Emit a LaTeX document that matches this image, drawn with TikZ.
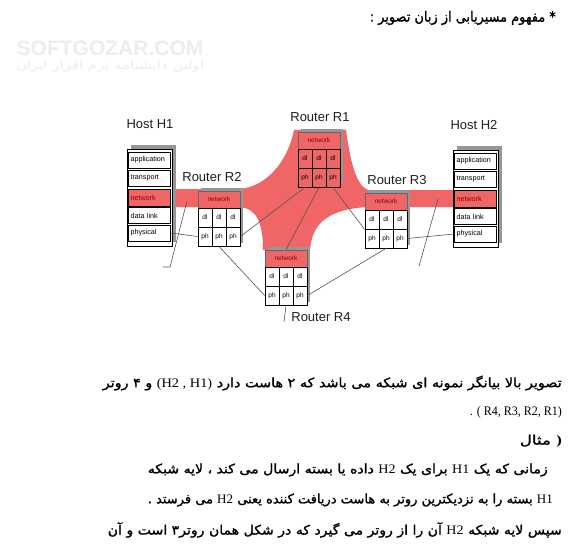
\documentclass[tikz,border=0pt]{standalone}
\usepackage{fontspec}
\usepackage{graphicx}
\setmainfont{Liberation Sans}
\newfontfamily\fa[Script=Arabic,FakeBold=1.3]{DejaVu Sans}
\newfontfamily\fathin[Script=Arabic]{DejaVu Sans}
\newfontfamily\tnr{Liberation Serif}
\TeXXeTstate=1
\definecolor{netred}{RGB}{240,102,102}
\definecolor{nettext}{RGB}{140,0,0}
\definecolor{linkgray}{RGB}{85,85,85}
\definecolor{shadowgray}{RGB}{150,150,150}
\definecolor{labelgray}{RGB}{30,30,30}
\tikzset{
  lbl/.style={font=\fontsize{13}{14}\selectfont, text=labelgray, inner sep=0pt},
  hcell/.style={draw=black, line width=0.6pt, fill=white, minimum width=42pt, minimum height=16pt,
    text width=38pt, align=left, inner xsep=2pt, inner ysep=0pt, font=\fontsize{7.2}{8}\selectfont},
  hnet/.style={hcell, fill=netred, text=nettext, minimum height=17pt},
  hbox/.style={draw=black, line width=0.8pt, fill=white, minimum width=45pt, minimum height=97pt,
    anchor=north west, inner sep=0pt},
  rcell/.style={draw=black, line width=0.8pt, minimum width=14pt, minimum height=19pt, inner sep=0pt,
    font=\fontsize{6.5}{7}\selectfont},
  rnet/.style={draw=black!60, line width=0.5pt, fill=netred, text=nettext, minimum width=42pt,
    minimum height=17pt, inner sep=0pt, font=\fontsize{6.5}{7}\selectfont},
  link/.style={draw=linkgray, line width=0.6pt},
  para/.style={anchor=east, inner sep=0pt, text=black},
}
\newcommand\rtrbox[4]{%
\begin{scope}[shift={(#2,#3)}]
  \fill[shadowgray] (3,-3) rectangle (45,52);
  \node[rnet] (#1net) at (21,8.5) {network};
  \node[rcell,fill=#4] (#1dl1) at (7,26.5) {dl};
  \node[rcell,fill=#4] (#1dl2) at (21,26.5) {dl};
  \node[rcell,fill=#4] (#1dl3) at (35,26.5) {dl};
  \node[rcell,fill=#4] (#1ph1) at (7,45.5) {ph};
  \node[rcell,fill=#4] (#1ph2) at (21,45.5) {ph};
  \node[rcell,fill=#4] (#1ph3) at (35,45.5) {ph};
\end{scope}}
\newcommand\hostbox[3]{%
\begin{scope}[shift={(#2,#3)}]
  \fill[shadowgray] (4,-4) rectangle (49,93);
  \node[hbox] (#1box) at (0,0) {};
  \node[hcell] (#1app) at (22.5,11) {application};
  \node[hcell] (#1trn) at (22.5,29) {transport};
  \node[hnet] (#1net) at (22.5,48.5) {network};
  \node[hcell] (#1dll) at (22.5,66.5) {data link};
  \node[hcell] (#1phy) at (22.5,84) {physical};
\end{scope}}
\begin{document}
\begin{tikzpicture}[x=1pt,y=-1pt]
\useasboundingbox (0,0) rectangle (585,556);
\fill[white] (0,0) rectangle (585,556);

% watermark
\node[inner sep=0pt, text=black!7, font=\fontsize{21}{22}\selectfont\bfseries] (wm1) at (110,48) {SOFTGOZAR.COM};
\node[inner sep=0pt, text=black!7] (wm2) at (110,66) {\resizebox{188pt}{\height}{\fathin\fontsize{12}{13}\selectfont\beginR اولین دانشنامه نرم افزار ایران\endR}};

% title
\node[para] (title) at (556,18) {\resizebox{186pt}{\height}{\fa\fontsize{14}{16}\selectfont\beginR * مفهوم مسیریابی از زبان تصویر :\endR}};

% red path (band + blob)
\fill[netred] (127,189) -- (240,189)
  .. controls (268,186) and (288,160) .. (294,130) -- (346,130)
  .. controls (350,160) and (356,186) .. (368,190) -- (495,190) -- (495,207) -- (368,207)
  .. controls (330,209) and (312,222) .. (310,250) -- (263,250)
  .. controls (263,225) and (258,209) .. (240,207) -- (127,207) -- cycle;

% hosts
\hostbox{h1}{127}{149}
\hostbox{h2}{453}{150}

% routers
\rtrbox{r1}{298}{132}{netred}
\rtrbox{r2}{198}{191}{white}
\rtrbox{r3}{365}{193}{white}
\rtrbox{r4}{265}{250}{white}

% labels
\node[lbl] (lh1) at (150,124) {Host H1};
\node[lbl] (lh2) at (474,125) {Host H2};
\node[lbl] (lr1) at (320,117) {Router R1};
\node[lbl] (lr2) at (212,177) {Router R2};
\node[lbl] (lr3) at (397,180) {Router R3};
\node[lbl] (lr4) at (321,317) {Router R4};

% links
\coordinate (h1tapA) at (187,201);
\coordinate (h1tapB) at (170,267);
\coordinate (h1tapC) at (163,267);
\coordinate (h2tapA) at (438,199);
\coordinate (h2tapB) at (419,266);
\coordinate (r4stub) at (284,322);
\draw[link] (h1phy.east) -- (r2ph1.west);
\draw[link] (r2ph3.east) -- (r1ph1.south);
\draw[link] (r2ph2.south) -- (r4ph1.west);
\draw[link] (r1ph2.south) -- (r4net.north);
\draw[link] (r1ph3.south) -- (r3dl1.south west);
\draw[link] (r3ph2.south) -- (r4ph3.east);
\draw[link] (r3ph3.east) -- (h2phy.west);
\draw[link] (r4ph2.south) -- (r4stub);
\draw[link] (h1tapA) -- (h1tapB) -- (h1tapC);
\draw[link] (h2tapA) -- (h2tapB);

% paragraph text
\node[para] (p1) at (562,383) {\resizebox{459pt}{\height}{\fa\fontsize{13}{15}\selectfont\beginR تصویر بالا بیانگر نمونه ای شبکه می باشد که ۲ هاست دارد \beginL{\tnr (H2 , H1)}\endL{} و ۴ روتر\endR}};
\node[para] (p2) at (562,412) {\resizebox{92pt}{\height}{\tnr\fontsize{13}{15}\selectfont . ( R4, R3, R2, R1)}};
\node[para] (p3) at (562,441) {\resizebox{42pt}{\height}{\fa\fontsize{13}{15}\selectfont\beginR مثال\endR{} {\tnr\bfseries )}}};
\node[para] (p4) at (548,470) {\resizebox{400pt}{\height}{\fa\fontsize{13}{15}\selectfont\beginR زمانی که یک \beginL{\tnr H1}\endL{} برای یک \beginL{\tnr H2}\endL{} داده یا بسته ارسال می کند ، لایه شبکه\endR}};
\node[para] (p5) at (553,500) {\resizebox{405pt}{\height}{\fa\fontsize{13}{15}\selectfont\beginR \beginL{\tnr H1}\endL{} بسته را به نزدیکترین روتر به هاست دریافت کننده یعنی \beginL{\tnr H2}\endL{} می فرستد .\endR}};
\node[para] (p6) at (562,530) {\resizebox{454pt}{\height}{\fa\fontsize{13}{15}\selectfont\beginR سپس لایه شبکه \beginL{\tnr H2}\endL{} آن را از روتر می گیرد که در شکل همان روتر۳ است و  آن\endR}};
\end{tikzpicture}
\end{document}
